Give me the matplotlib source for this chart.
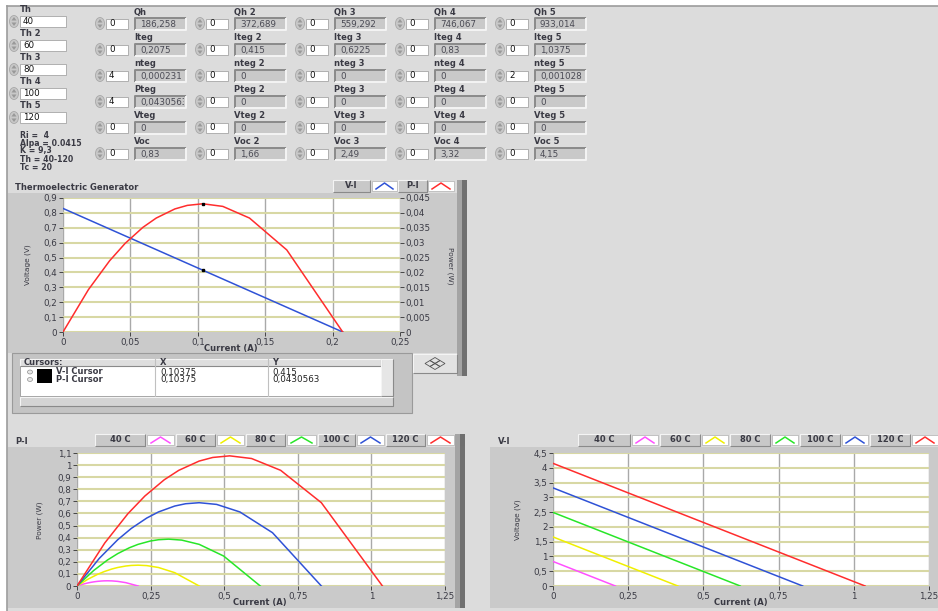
import matplotlib
matplotlib.use("Agg")
from matplotlib import pyplot as plt
from matplotlib.patches import Rectangle, Polygon, Ellipse
from matplotlib.ticker import FuncFormatter, MultipleLocator

plt.rcParams['font.family'] = ['DejaVu Sans']

W, H = 938, 611

# ---------------- data ----------------
temps = ["40 C", "60 C", "80 C", "100 C", "120 C"]
temp_colors = ["#ff50ff", "#f0f000", "#28e628", "#2f52d6", "#ff2d2d"]

# current (A), voltage (V), power (W) per hot-side temperature
i_40 = [0, 0.01886, 0.03458, 0.04611, 0.05929, 0.06917, 0.083, 0.09222, 0.10375, 0.11857, 0.13833, 0.166, 0.2075]
v_40 = [0.83, 0.75455, 0.69167, 0.64556, 0.59286, 0.55333, 0.498, 0.46111, 0.415, 0.35571, 0.27667, 0.166, 0]
p_40 = [0, 0.01423, 0.02392, 0.02977, 0.03515, 0.03827, 0.04133, 0.04252, 0.04306, 0.04218, 0.03827, 0.02756, 0]

i_60 = [0, 0.03773, 0.06917, 0.09222, 0.11857, 0.13833, 0.166, 0.18444, 0.2075, 0.23714, 0.27667, 0.332, 0.415]
v_60 = [1.66, 1.50909, 1.38333, 1.29111, 1.18571, 1.10667, 0.996, 0.92222, 0.83, 0.71143, 0.55333, 0.332, 0]
p_60 = [0, 0.05693, 0.09568, 0.11907, 0.14060, 0.15309, 0.16534, 0.17009, 0.17223, 0.16871, 0.15309, 0.11022, 0]

i_80 = [0, 0.05659, 0.10375, 0.13833, 0.17786, 0.2075, 0.249, 0.27667, 0.31125, 0.35571, 0.415, 0.498, 0.6225]
v_80 = [2.49, 2.26364, 2.075, 1.93667, 1.77857, 1.66, 1.494, 1.38333, 1.245, 1.06714, 0.83, 0.498, 0]
p_80 = [0, 0.12810, 0.21528, 0.26790, 0.31634, 0.34445, 0.37201, 0.38272, 0.38751, 0.37959, 0.34445, 0.24800, 0]

i_100 = [0, 0.07545, 0.13833, 0.18444, 0.23714, 0.27667, 0.332, 0.36889, 0.415, 0.47429, 0.55333, 0.664, 0.83]
v_100 = [3.32, 3.01818, 2.76667, 2.58222, 2.37143, 2.21333, 1.992, 1.84444, 1.66, 1.42286, 1.10667, 0.664, 0]
p_100 = [0, 0.22773, 0.38272, 0.47627, 0.56237, 0.61235, 0.66134, 0.68039, 0.68890, 0.67483, 0.61235, 0.44090, 0]

i_120 = [0, 0.09432, 0.17292, 0.23056, 0.29643, 0.34583, 0.415, 0.46111, 0.51875, 0.59286, 0.69167, 0.83, 1.0375]
v_120 = [4.15, 3.77273, 3.45833, 3.22778, 2.96429, 2.76667, 2.49, 2.30556, 2.075, 1.77857, 1.38333, 0.83, 0]
p_120 = [0, 0.35583, 0.59800, 0.74417, 0.87870, 0.95681, 1.03335, 1.06311, 1.07641, 1.05442, 0.95681, 0.68890, 0]

currents = [i_40, i_60, i_80, i_100, i_120]
voltages = [v_40, v_60, v_80, v_100, v_120]
powers = [p_40, p_60, p_80, p_100, p_120]

cursor_x = 0.10375
cursor_v = 0.415
cursor_p = 0.0430563

th_values = [40, 60, 80, 100, 120]
params = ["Ri =  4", "Alpa = 0.0415", "K = 9,3", "Th = 40-120", "Tc = 20"]

row_names = ["Qh", "Iteg", "nteg", "Pteg", "Vteg", "Voc"]
qh = ["186,258", "372,689", "559,292", "746,067", "933,014"]
iteg = ["0,2075", "0,415", "0,6225", "0,83", "1,0375"]
nteg = ["0,000231", "0", "0", "0", "0,001028"]
pteg = ["0,0430563", "0", "0", "0", "0"]
vteg = ["0", "0", "0", "0", "0"]
voc = ["0,83", "1,66", "2,49", "3,32", "4,15"]
indicator_rows = [qh, iteg, nteg, pteg, vteg, voc]
control_rows = [[0, 0, 0, 0, 0], [0, 0, 0, 0, 0], [4, 0, 0, 0, 2],
                [4, 0, 0, 0, 0], [0, 0, 0, 0, 0], [0, 0, 0, 0, 0]]

# ---------------- helpers ----------------
PANEL = "#dcdcdc"
FRAME = "#cacaca"
TXT = "#3a3a44"
FS = 6.3    # values / ticks
LFS = 6.0   # labels
LW = "bold"


def comma(v, pos=None):
    return ("%g" % round(v, 9)).replace(".", ",")


def px_axes(x0, y0, x1, y1):
    return fig.add_axes([x0 / W, 1 - y1 / H, (x1 - x0) / W, (y1 - y0) / H])


def bevel(x, y, w, h, fc, sunken=False, lw=0.8):
    bg.add_patch(Rectangle((x, y), w, h, fc=fc, ec="none"))
    dark, light = "#8a8a8a", "#f4f4f4"
    tl, br = (dark, light) if sunken else (light, dark)
    bg.plot([x, x, x + w], [y + h, y, y], color=tl, lw=lw, solid_capstyle="butt")
    bg.plot([x, x + w, x + w], [y + h, y + h, y], color=br, lw=lw, solid_capstyle="butt")


def spinner(cx, cy):
    bg.add_patch(Ellipse((cx, cy), 9, 12, fc="#c8c8c8", ec="#a8a8a8", lw=0.6))
    bg.add_patch(Polygon([[cx - 2.5, cy - 1], [cx + 2.5, cy - 1], [cx, cy - 4.5]], fc="#999", ec="none"))
    bg.add_patch(Polygon([[cx - 2.5, cy + 1], [cx + 2.5, cy + 1], [cx, cy + 4.5]], fc="#999", ec="none"))


def control(x, y, w, h, txt):
    bg.add_patch(Rectangle((x, y), w, h, fc="white", ec="#a6a6a6", lw=0.6))
    bg.text(x + 3, y + h / 2, str(txt), fontsize=FS, color="#111", va="center", ha="left")


def indicator(x, y, w, h, txt):
    bevel(x, y, w, h, "#c9c9c9", sunken=True, lw=1.4)
    r = Rectangle((x + 1, y + 1), w - 3, h - 2, fc="none", ec="none")
    bg.add_patch(r)
    t = bg.text(x + 5, y + h / 2 + 0.5, txt, fontsize=FS, color="#4a4a54", va="center", ha="left",
                clip_on=True)
    t.set_clip_path(r)


def label(x, y, txt, size=LFS, **kw):
    bg.text(x, y, txt, fontsize=size, color=TXT, fontweight=LW, va="center", **kw)


def legend_bar(cells, y0, y1, end_x):
    for name, color, lx0, lx1, sx0, sx1 in cells:
        bevel(lx0, y0, lx1 - lx0, y1 - y0, "#c8c8c8")
        label((lx0 + lx1) / 2, (y0 + y1) / 2, name, ha="center")
        bg.add_patch(Rectangle((sx0, y0 + 1), sx1 - sx0, y1 - y0 - 2, fc="white", ec="#b0b0b0", lw=0.5))
        bg.plot([sx0 + 4, (sx0 + sx1) / 2, sx1 - 4], [y1 - 3, y0 + 3, y1 - 3], color=color, lw=1.1)
    if end_x is not None:
        bg.add_patch(Rectangle((end_x, y0), 5, y1 - y0, fc="#a4a4a4", ec="none"))
        bg.add_patch(Rectangle((end_x + 5, y0), 5, y1 - y0, fc="#6f6f6f", ec="none"))


def style_plot(ax, xmax, xstep, ymax, ystep):
    ax.set_facecolor("white")
    ax.set_xlim(0, xmax)
    ax.set_ylim(0, ymax)
    ax.xaxis.set_major_locator(MultipleLocator(xstep))
    ax.yaxis.set_major_locator(MultipleLocator(ystep))
    ax.xaxis.set_major_formatter(FuncFormatter(comma))
    ax.yaxis.set_major_formatter(FuncFormatter(comma))
    for s in ax.spines.values():
        s.set_visible(False)
    ax.set_axisbelow(True)
    ax.grid(axis="y", color="#d8d8a4", lw=1.5)
    ax.grid(axis="x", color="#a9a9a9", lw=1.0)
    ax.tick_params(direction="out", length=3, width=0.7, color="#444", labelsize=FS,
                   labelcolor=TXT, pad=1)


# ---------------- figure / panel ----------------
fig = plt.figure(figsize=(W / 100, H / 100), dpi=100)
fig.patch.set_facecolor("white")
bg = fig.add_axes([0, 0, 1, 1])
bg.set_xlim(0, W)
bg.set_ylim(H, 0)
bg.axis("off")
bg.add_patch(Rectangle((7, 6), W - 7, H - 6, fc=PANEL, ec="none"))
bg.plot([7, W], [6, 6], color="#9c9c9c", lw=1.2)
bg.plot([7, 7], [6, H], color="#9c9c9c", lw=1.2)

# Th controls
for k, th in enumerate(th_values):
    top = 16 + 24 * k
    label(20, top - 6, "Th" if k == 0 else "Th %d" % (k + 1))
    spinner(14, top + 5.5)
    control(20, top, 46, 11, th)

for k, line in enumerate(params):
    label(20, 135 + 8 * k, line, size=5.6)

# indicator grid
for r, name in enumerate(row_names):
    top = 18 + 26 * r
    for c in range(5):
        x = 100 * c
        spinner(100 + x, top + 5.5)
        control(106 + x, top + 1, 22, 10, control_rows[r][c])
        label(134 + x, top - 6, name if c == 0 else "%s %d" % (name, c + 1))
        indicator(135 + x, top, 51, 12, indicator_rows[r][c])

# ---------------- top graph ----------------
label(15, 187, "Thermoelectric Generator")
bg.add_patch(Rectangle((8, 193), 449, 160, fc=FRAME, ec="none"))
bg.add_patch(Rectangle((457, 180), 5, 196, fc="#a4a4a4", ec="none"))
bg.add_patch(Rectangle((462, 180), 5, 196, fc="#707070", ec="none"))
legend_bar([("V-I", temp_colors[3], 333, 370, 372, 397),
            ("P-I", temp_colors[4], 398, 427, 428, 454)], 180, 192, None)

ax = px_axes(63, 198, 400, 332)
style_plot(ax, 0.25, 0.05, 0.9, 0.1)
ax.plot(i_40, v_40, color=temp_colors[3], lw=1.1)
ax.plot(cursor_x, cursor_v, "s", color="black", ms=2)
ax2 = ax.twinx()
ax2.set_ylim(0, 0.045)
ax2.yaxis.set_major_locator(MultipleLocator(0.005))
ax2.yaxis.set_major_formatter(FuncFormatter(comma))
for s in ax2.spines.values():
    s.set_visible(False)
ax2.tick_params(direction="out", length=3, width=0.7, color="#444", labelsize=FS,
                labelcolor=TXT, pad=1)
ax2.plot(i_40, p_40, color=temp_colors[4], lw=1.1)
ax2.plot(cursor_x, cursor_p, "s", color="black", ms=2)
bg.text(28, 265, "Voltage (V)", fontsize=5.3, color=TXT, rotation=90, ha="center", va="center")
bg.text(450, 266, "Power (W)", fontsize=5.3, color=TXT, rotation=270, ha="center", va="center")
label(231, 349, "Current (A)", ha="center")

# cursor table
bg.add_patch(Rectangle((12, 353), 400, 60, fc="#c4c4c4", ec="#9a9a9a", lw=0.8))
bg.add_patch(Rectangle((20, 359), 361, 37, fc="white", ec="#9a9a9a", lw=0.6))
bevel(20, 359, 361, 7, "#dedede")
for xd in (155, 268):
    bg.plot([xd, xd], [359, 396], color="#c0c0c0", lw=0.8)
label(24, 362.5, "Cursors:")
label(160, 362.5, "X")
label(272, 362.5, "Y")
cursor_rows = [("V-I Cursor", cursor_x, cursor_v), ("P-I Cursor", cursor_x, cursor_p)]
for k, (name, cx, cy) in enumerate(cursor_rows):
    yy = 372 + 7.5 * k
    bg.add_patch(Ellipse((30, yy), 5, 4, fc="#e8e8e8", ec="#909090", lw=0.5))
    bg.add_patch(Rectangle((37, yy - 3.5), 15, 7, fc="black", ec="none"))
    label(56, yy, name)
    bg.text(160, yy, comma(cx), fontsize=FS, color="#222", va="center")
    bg.text(272, yy, comma(cy), fontsize=FS, color="#222", va="center")
bevel(381, 359, 12, 37, "#e6e6e6")
bevel(20, 397, 373, 9, "#d4d4d4")
bevel(413, 354, 44, 19, "#e2e2e2")
for dx, dy in ((-5, 0), (5, 0), (0, -3), (0, 3)):
    cx, cy = 435 + dx, 363.5 + dy
    bg.add_patch(Polygon([[cx - 5, cy], [cx, cy - 3], [cx + 5, cy], [cx, cy + 3]],
                         fc="none", ec="#555", lw=0.6))

# ---------------- bottom graphs ----------------
label(15, 441, "P-I")
bg.add_patch(Rectangle((8, 447), 447, 161, fc=FRAME, ec="none"))
left_cells = [(temps[0], temp_colors[0], 95, 145, 147, 174),
              (temps[1], temp_colors[1], 176, 215, 217, 244),
              (temps[2], temp_colors[2], 246, 285, 287, 316),
              (temps[3], temp_colors[3], 318, 355, 357, 384),
              (temps[4], temp_colors[4], 386, 425, 427, 454)]
legend_bar(left_cells, 434, 446, 455)
bg.add_patch(Rectangle((455, 446), 5, 162, fc="#a4a4a4", ec="none"))
bg.add_patch(Rectangle((460, 446), 5, 162, fc="#707070", ec="none"))

axp = px_axes(77, 453, 445, 586)
style_plot(axp, 1.25, 0.25, 1.1, 0.1)
for cur, pw, col in zip(currents, powers, temp_colors):
    axp.plot(cur, pw, color=col, lw=1.1)
bg.text(40, 520, "Power (W)", fontsize=5.3, color=TXT, rotation=90, ha="center", va="center")
label(260, 603, "Current (A)", ha="center")

label(498, 441, "V-I")
bg.add_patch(Rectangle((490, 447), 448, 161, fc=FRAME, ec="none"))
right_cells = [(temps[0], temp_colors[0], 578, 630, 632, 658),
               (temps[1], temp_colors[1], 660, 700, 702, 728),
               (temps[2], temp_colors[2], 730, 770, 772, 798),
               (temps[3], temp_colors[3], 800, 840, 842, 868),
               (temps[4], temp_colors[4], 870, 910, 912, 938)]
legend_bar(right_cells, 434, 446, None)

axv = px_axes(553, 453, 929, 586)
style_plot(axv, 1.25, 0.25, 4.5, 0.5)
for cur, vol, col in zip(currents, voltages, temp_colors):
    axv.plot(cur, vol, color=col, lw=1.1)
bg.text(518, 520, "Voltage (V)", fontsize=5.3, color=TXT, rotation=90, ha="center", va="center")
label(741, 603, "Current (A)", ha="center")

fig.savefig("out.png", dpi=100, facecolor=fig.get_facecolor())
